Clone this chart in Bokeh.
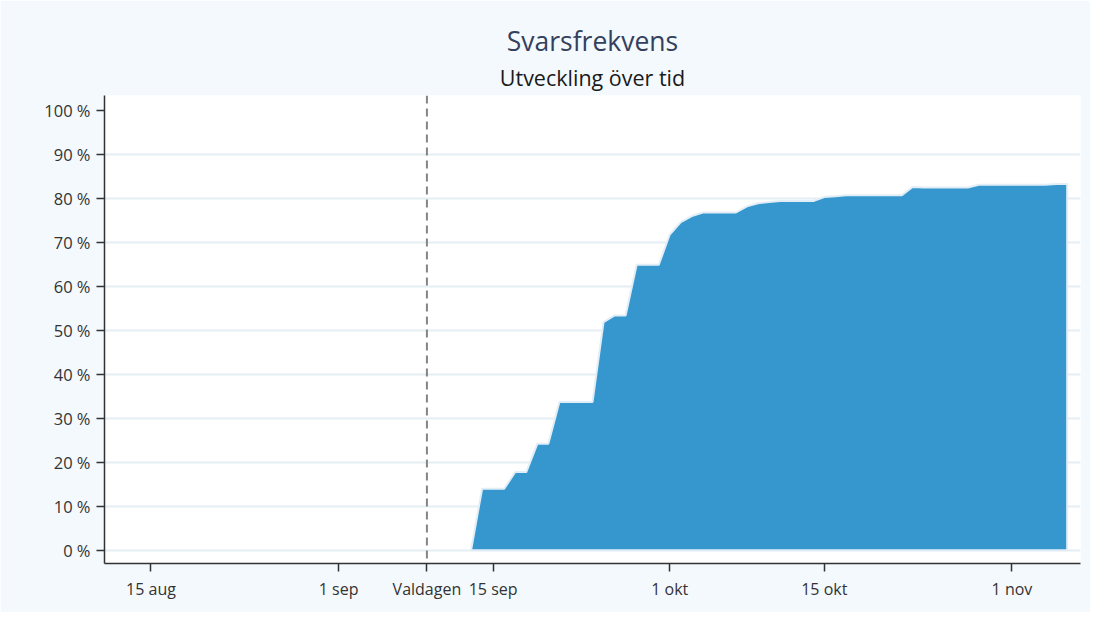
import datetime as dt
from bokeh.plotting import figure
from bokeh.models import FixedTicker, Span, Title, Range1d
from bokeh.embed import file_html
from bokeh.resources import INLINE

# ---------------- data ----------------
dates = [
    "2022-09-13", "2022-09-14", "2022-09-15", "2022-09-16", "2022-09-17", "2022-09-18",
    "2022-09-19", "2022-09-20", "2022-09-21", "2022-09-22", "2022-09-23", "2022-09-24",
    "2022-09-25", "2022-09-26", "2022-09-27", "2022-09-28", "2022-09-29", "2022-09-30",
    "2022-10-01", "2022-10-02", "2022-10-03", "2022-10-04", "2022-10-05", "2022-10-06",
    "2022-10-07", "2022-10-08", "2022-10-09", "2022-10-10", "2022-10-11", "2022-10-12",
    "2022-10-13", "2022-10-14", "2022-10-15", "2022-10-16", "2022-10-17", "2022-10-18",
    "2022-10-19", "2022-10-20", "2022-10-21", "2022-10-22", "2022-10-23", "2022-10-24",
    "2022-10-25", "2022-10-26", "2022-10-27", "2022-10-28", "2022-10-29", "2022-10-30",
    "2022-10-31", "2022-11-01", "2022-11-02", "2022-11-03", "2022-11-04", "2022-11-05",
    "2022-11-06",
]
response_rate = [
    0.0, 14.0, 14.0, 14.0, 17.8, 17.8,
    24.2, 24.2, 33.7, 33.7, 33.7, 33.7,
    51.9, 53.4, 53.4, 64.9, 64.9, 64.9,
    71.8, 74.6, 76.0, 76.8, 76.8, 76.8,
    76.8, 78.2, 78.9, 79.2, 79.4, 79.4,
    79.4, 79.4, 80.3, 80.5, 80.7, 80.7,
    80.7, 80.7, 80.7, 80.7, 82.6, 82.5,
    82.5, 82.5, 82.5, 82.5, 83.1, 83.1,
    83.1, 83.1, 83.1, 83.1, 83.1, 83.3,
    83.3,
]
tick_dates = ["2022-08-15", "2022-09-01", "2022-09-09", "2022-09-15",
              "2022-10-01", "2022-10-15", "2022-11-01"]
tick_labels = ["15 aug", "1 sep", "Valdagen", "15 sep", "1 okt", "15 okt", "1 nov"]
y_ticks = [0, 10, 20, 30, 40, 50, 60, 70, 80, 90, 100]
y_labels = [f"{v} %" for v in y_ticks]
valdagen = "2022-09-09"
title_text = "Svarsfrekvens"
subtitle_text = "Utveckling över tid"

# ---------------- helpers ----------------
EPOCH = dt.datetime(1970, 1, 1)


def to_ms(d):
    if isinstance(d, str):
        d = dt.datetime.strptime(d, "%Y-%m-%d")
    return (d - EPOCH).total_seconds() * 1000.0


x_dates = [dt.datetime.strptime(d, "%Y-%m-%d") for d in dates]

FONT = "Open Sans"
BG = "#F3F9FD"

p = figure(
    width=1090, height=612,
    x_axis_type="datetime",
    output_backend="svg", toolbar_location=None, tools="",
    x_range=Range1d(to_ms(dt.datetime(2022, 8, 10, 19)), to_ms(dt.datetime(2022, 11, 7, 5))),
    y_range=Range1d(-3.0, 103.4),
    min_border_left=104, min_border_right=10, min_border_top=95, min_border_bottom=49,
    background_fill_color="white", border_fill_color=BG,
)
p.outline_line_color = None
p.title.text = ""

sub = Title(text=subtitle_text, align="center", text_font=FONT, text_font_size="21.5px",
            text_font_style="normal", text_color="#1a1a1a", standoff=8)
p.add_layout(sub, "above")
main = Title(text=title_text, align="center", text_font=FONT, text_font_size="26.5px",
             text_font_style="normal", text_color="#34405C", standoff=-4)
p.add_layout(main, "above")

# area
patch_x = x_dates + [x_dates[-1]]
patch_y = response_rate + [0.0]
p.patch(patch_x, patch_y, fill_color="#3597CD", line_color="#E2EEF7", line_width=2)

# election day line
p.add_layout(Span(location=to_ms(valdagen), dimension="height", line_color="#858585",
                  line_width=2, line_dash="8 5"))

# axes
p.xaxis.ticker = FixedTicker(ticks=[to_ms(d) for d in tick_dates])
p.xaxis.major_label_overrides = {to_ms(d): lab for d, lab in zip(tick_dates, tick_labels)}
p.yaxis.ticker = FixedTicker(ticks=y_ticks)
p.yaxis.major_label_overrides = {v: lab for v, lab in zip(y_ticks, y_labels)}

for ax in (p.xaxis[0], p.yaxis[0]):
    ax.axis_line_color = "#333333"
    ax.axis_line_width = 1.5
    ax.major_tick_line_color = "#333333"
    ax.major_tick_line_width = 1.5
    ax.major_tick_out = 8
    ax.major_tick_in = 0
    ax.minor_tick_line_color = None
    ax.major_label_text_font = FONT
    ax.major_label_text_font_size = "16px"
    ax.major_label_text_color = "#333333"
    ax.major_label_standoff = 6

p.yaxis.major_label_text_font_size = "16.5px"

p.xgrid.grid_line_color = None
p.ygrid.ticker = FixedTicker(ticks=y_ticks[:-1])
p.ygrid.grid_line_color = "#E5EEF3"
p.ygrid.grid_line_width = 2

open("out.html", "w").write(file_html(p, INLINE))
